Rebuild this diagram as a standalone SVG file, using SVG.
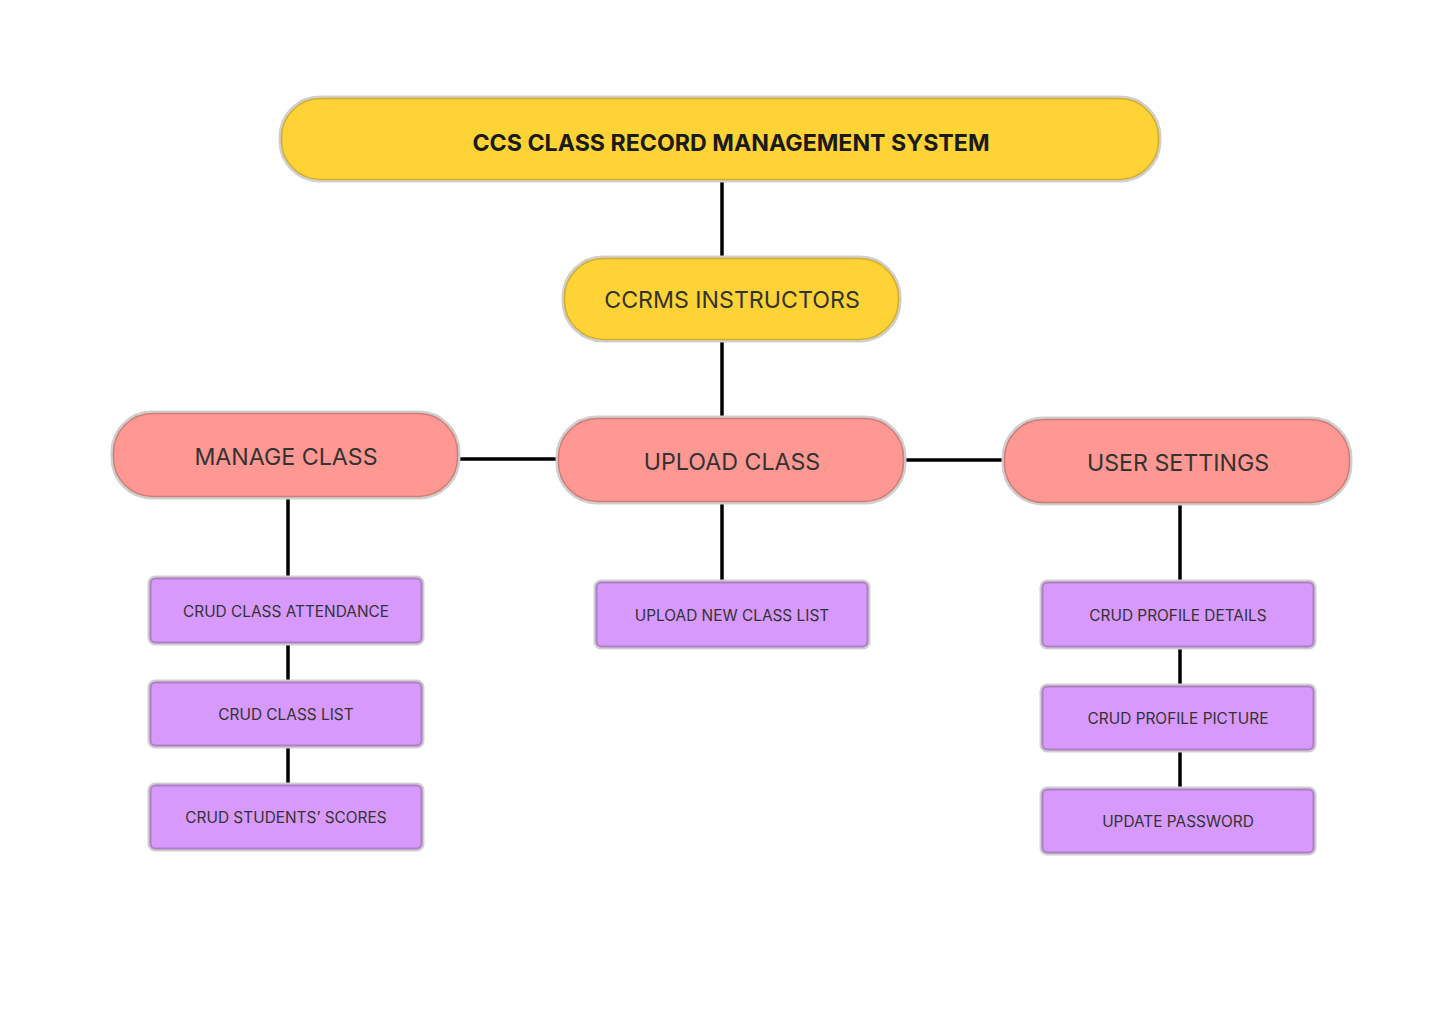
<svg xmlns="http://www.w3.org/2000/svg" width="1440" height="1024" viewBox="0 0 1440 1024">
<style>
.outer{fill:none;stroke:#cfcfcf;stroke-width:3}
.y{fill:#fdd335;stroke:#d4ad2c;stroke-width:1.5}
.p{fill:#ff9792;stroke:#d07c77;stroke-width:1.5}
.v{fill:#d899fd;stroke:#ad7fc6;stroke-width:2}
.t{font-family:Inter,"Liberation Sans",sans-serif;text-anchor:middle;dominant-baseline:central;fill:#333}
.big{font-size:23.2px}
.small{font-size:15.4px}
.conn line{stroke:#000;stroke-width:3.5}
</style>
<rect width="1440" height="1024" fill="#fff"/>
<g class="conn">
<line x1="722" y1="180" x2="722" y2="258"/>
<line x1="722" y1="340" x2="722" y2="418"/>
<line x1="459" y1="459" x2="558" y2="459"/>
<line x1="905" y1="460" x2="1004" y2="460"/>
<line x1="288" y1="497" x2="288" y2="578"/>
<line x1="288" y1="643" x2="288" y2="682"/>
<line x1="288" y1="746" x2="288" y2="785"/>
<line x1="722" y1="502" x2="722" y2="582"/>
<line x1="1180" y1="503" x2="1180" y2="582"/>
<line x1="1180" y1="647" x2="1180" y2="686"/>
<line x1="1180" y1="750" x2="1180" y2="789"/>
</g>
<g id="root">
<rect class="outer" x="280" y="97" width="880" height="84" rx="40"/>
<rect class="y" x="281.5" y="98.5" width="877" height="81" rx="39"/>
<text class="t big" x="731" y="143" font-weight="700" style="fill:#1a1a1a">CCS CLASS RECORD MANAGEMENT SYSTEM</text>
</g>
<g id="instructors">
<rect class="outer" x="563" y="257" width="337" height="84" rx="40"/>
<rect class="y" x="564.5" y="258.5" width="334" height="81" rx="39"/>
<text class="t big" x="732" y="300">CCRMS INSTRUCTORS</text>
</g>
<g id="manage">
<rect class="outer" x="112" y="412" width="347" height="86" rx="40"/>
<rect class="p" x="113.5" y="413.5" width="344" height="83" rx="39"/>
<text class="t big" x="286" y="457">MANAGE CLASS</text>
</g>
<g id="upload">
<rect class="outer" x="557" y="417" width="348" height="86" rx="40"/>
<rect class="p" x="558.5" y="418.5" width="345" height="83" rx="39"/>
<text class="t big" x="732" y="462">UPLOAD CLASS</text>
</g>
<g id="settings">
<rect class="outer" x="1003" y="418" width="348" height="86" rx="40"/>
<rect class="p" x="1004.5" y="419.5" width="345" height="83" rx="39"/>
<text class="t big" x="1178" y="463">USER SETTINGS</text>
</g>
<g id="attendance">
<rect class="outer" x="149" y="577" width="274" height="67" rx="6"/>
<rect class="v" x="150.5" y="578.5" width="271" height="64" rx="5"/>
<text class="t small" x="286" y="611">CRUD CLASS ATTENDANCE</text>
</g>
<g id="classlist">
<rect class="outer" x="149" y="681" width="274" height="66" rx="6"/>
<rect class="v" x="150.5" y="682.5" width="271" height="63" rx="5"/>
<text class="t small" x="286" y="714">CRUD CLASS LIST</text>
</g>
<g id="scores">
<rect class="outer" x="149" y="784" width="274" height="66" rx="6"/>
<rect class="v" x="150.5" y="785.5" width="271" height="63" rx="5"/>
<text class="t small" x="286" y="817">CRUD STUDENTS’ SCORES</text>
</g>
<g id="newlist">
<rect class="outer" x="595" y="581" width="274" height="67" rx="6"/>
<rect class="v" x="596.5" y="582.5" width="271" height="64" rx="5"/>
<text class="t small" x="732" y="615">UPLOAD NEW CLASS LIST</text>
</g>
<g id="details">
<rect class="outer" x="1041" y="581" width="274" height="67" rx="6"/>
<rect class="v" x="1042.5" y="582.5" width="271" height="64" rx="5"/>
<text class="t small" x="1178" y="615">CRUD PROFILE DETAILS</text>
</g>
<g id="picture">
<rect class="outer" x="1041" y="685" width="274" height="66" rx="6"/>
<rect class="v" x="1042.5" y="686.5" width="271" height="63" rx="5"/>
<text class="t small" x="1178" y="718">CRUD PROFILE PICTURE</text>
</g>
<g id="password">
<rect class="outer" x="1041" y="788" width="274" height="66" rx="6"/>
<rect class="v" x="1042.5" y="789.5" width="271" height="63" rx="5"/>
<text class="t small" x="1178" y="821">UPDATE PASSWORD</text>
</g>
</svg>
